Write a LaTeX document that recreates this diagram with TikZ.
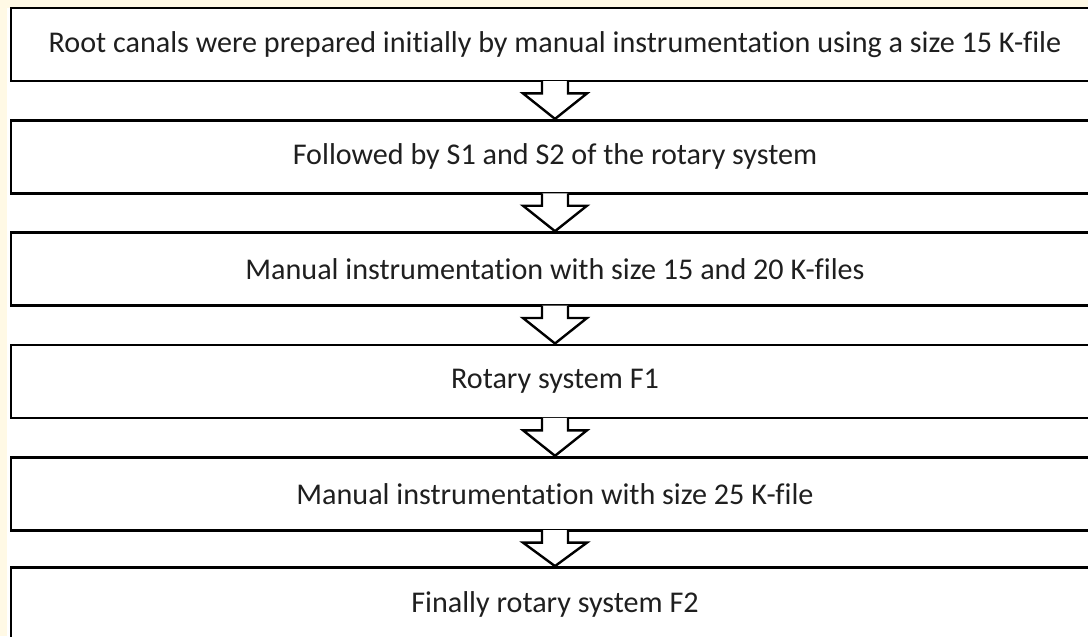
\documentclass[tikz,border=0pt]{standalone}
\usepackage{fontspec}
\setmainfont[Ligatures=NoCommon]{Carlito}
\usetikzlibrary{calc}
\definecolor{bgyellow}{HTML}{FFF9E5}
\tikzset{
  stepbox/.style={draw=black, line width=2.8*0.75pt, fill=white, minimum width=1088*0.75pt,
    minimum height=73*0.75pt, inner sep=0pt, font=\fontsize{22.6pt}{26pt}\selectfont, text=black!88},
  hollowarrow/.style={draw=black, line width=2.4*0.75pt, fill=white, line join=miter}
}
\newcommand{\blockarrow}[2]{%
  \draw[hollowarrow] ($(#1.south)+(-13,-1.4)$) -- ($(#1.south)+(-13,11)$) -- ($(#1.south)+(-32,11)$)
    -- (#2.north) -- ($(#1.south)+(32,11)$) -- ($(#1.south)+(13,11)$) -- ($(#1.south)+(13,-1.4)$);}
\begin{document}
\begin{tikzpicture}[x=0.75pt,y=-0.75pt]
\fill[bgyellow] (0,0) rectangle (1088,636);
\fill[white] (7,8) rectangle (1088,636);
\useasboundingbox (0,0) rectangle (1088,636);
\node[stepbox] (b1) at (555,44.5) {Root canals were prepared initially by manual instrumentation using a size 15 K-file};
\node[stepbox] (b2) at (555,156.8) {Followed by S1 and S2 of the rotary system};
\node[stepbox] (b3) at (555,269.1) {Manual instrumentation with size 15 and 20 K-files};
\node[stepbox] (b4) at (555,381.4) {Rotary system F1};
\node[stepbox] (b5) at (555,493.7) {Manual instrumentation with size 25 K-file};
\node[stepbox] (b6) at (555,604) {Finally rotary system F2};
\blockarrow{b1}{b2}
\blockarrow{b2}{b3}
\blockarrow{b3}{b4}
\blockarrow{b4}{b5}
\blockarrow{b5}{b6}
\end{tikzpicture}
\end{document}
